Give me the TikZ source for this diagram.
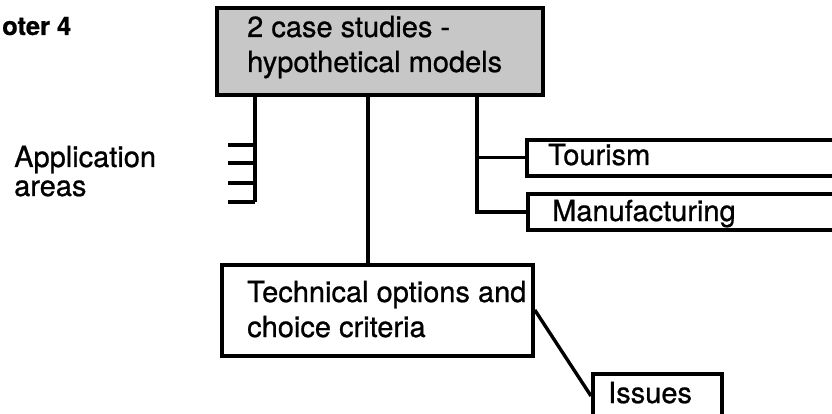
\documentclass[tikz,border=0pt]{standalone}
\usepackage{fontspec}
\setmainfont{TeX Gyre Heros}[FakeBold=0.8]
\begin{document}
\begin{tikzpicture}[x=1pt,y=-1pt,
  box/.style={draw=black, line width=3.6pt, rectangle, inner sep=0pt},
  conn/.style={draw=black, line width=3.4pt},
  lbl/.style={anchor=base west, inner sep=0pt, font=\fontsize{29}{35}\selectfont},
  hdr/.style={anchor=base west, inner sep=0pt, font=\fontsize{25.5}{30}\selectfont\bfseries}]
\useasboundingbox[fill=white] (0,0) rectangle (832,414);
\begin{scope}
\clip (0,0) rectangle (832,414);
% boxes
\node[box, fill=black!22, minimum width=326pt, minimum height=87pt] (top) at (380,51.5) {};
\node[box, minimum width=311pt, minimum height=91pt] (tech) at (377.5,310.5) {};
\node[box, minimum width=325pt, minimum height=36pt, anchor=north west] (tour) at (525,138) {};
\node[box, minimum width=325pt, minimum height=36pt, anchor=north west] (manu) at (526,192) {};
\node[box, minimum width=129pt, minimum height=60pt, anchor=north west] (iss) at (591,372) {};
% texts
\node[hdr] (chap) at (2,35) {oter 4};
\node[lbl] (t1) at (247,37) {2 case studies -};
\node[lbl] (t2) at (247,72) {hypothetical models};
\node[lbl] (app1) at (14,167) {Application};
\node[lbl] (app2) at (14,196) {areas};
\node[lbl] (tourt) at (548,165) {Tourism};
\node[lbl] (manut) at (552,221) {Manufacturing};
\node[lbl] (tech1) at (247,302) {Technical options and};
\node[lbl] (tech2) at (247,337) {choice criteria};
\node[lbl] (isst) at (608,403) {Issues};
% connectors
\coordinate (a4) at (255,202);
\coordinate (k1) at (228,145);
\coordinate (k2) at (228,163);
\coordinate (k3) at (228,183);
\coordinate (k4) at (228,202);
\draw[conn] (top.south -| 255,0) -- (a4);
\draw[conn] (k1) -- (k1 -| a4);
\draw[conn] (k2) -- (k2 -| a4);
\draw[conn] (k3) -- (k3 -| a4);
\draw[conn] (k4) -- (a4);
\draw[conn] (top.south -| 368,0) -- (tech.north -| 368,0);
\coordinate (r) at (477,0);
\draw[conn] (top.south -| r) |- (manu.west);
\draw[conn] (r |- tour.west) -- (tour.west);
\draw[conn] (tech.east |- 0,310) -- (iss.west |- 0,396);
\end{scope}
\end{tikzpicture}
\end{document}
